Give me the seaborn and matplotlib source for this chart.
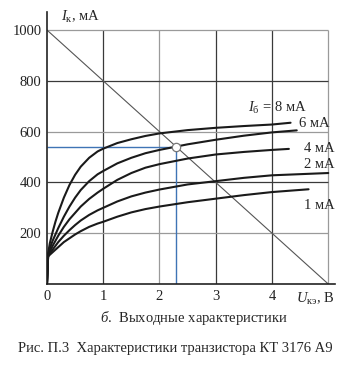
import numpy as np
import pandas as pd
import matplotlib
matplotlib.use('Agg')
import matplotlib.pyplot as plt
import seaborn as sns

sns.set_style('white')
plt.rcParams['font.family'] = ['Liberation Serif', 'DejaVu Serif']
plt.rcParams['mathtext.fontset'] = 'custom'
plt.rcParams['mathtext.rm'] = 'Liberation Serif'
plt.rcParams['mathtext.it'] = 'Liberation Serif:italic'

# Output characteristics (U in V, I in mA)
u_pts = [0, 0.02, 0.05, 0.1, 0.15, 0.2, 0.3, 0.4, 0.5, 0.6, 0.75, 0.9, 1.0,
         1.25, 1.5, 1.75, 2.0, 2.5, 3.0, 3.5, 4.0]
u_8 = u_pts + [4.33]
i_8 = [0, 120, 160, 205, 245, 280, 340, 390, 430, 462, 497, 522, 533,
       555, 570, 583, 593, 606, 615, 622, 628, 635]
u_6 = u_pts + [4.44]
i_6 = [0, 115, 140, 170, 195, 220, 265, 305, 340, 370, 405, 432, 445,
       475, 497, 515, 528, 550, 568, 584, 597, 605]
u_4 = u_pts + [4.3]
i_4 = [0, 112, 128, 150, 170, 190, 225, 255, 280, 305, 335, 360, 375,
       410, 437, 458, 472, 494, 510, 520, 528, 532]
u_2 = u_pts + [5.0]
i_2 = [0, 110, 120, 135, 150, 165, 190, 212, 232, 250, 272, 290, 300,
       325, 345, 360, 372, 392, 405, 418, 428, 437]
u_1 = u_pts + [4.65]
i_1 = [0, 108, 115, 125, 135, 145, 165, 180, 195, 208, 225, 238, 245,
       265, 282, 295, 305, 322, 336, 350, 362, 373]

load_u = [0, 5]
load_i = [1000, 0]
op_u, op_i = 2.3, 540

x_ticks = [0, 1, 2, 3, 4]
y_ticks = [200, 400, 600, 800, 1000]

fig = plt.figure(figsize=(3.53, 3.68), dpi=100)
ax = fig.add_axes([0.1331, 0.2283, 0.8159, 0.739])

# grid box
dark, light = '#3a3a3a', '#9a9a9a'
for x, c in zip([1, 2, 3, 4, 5], [dark, light, dark, dark, light]):
    ax.vlines(x, 0, 1000, color=c, lw=0.9, zorder=1)
for y, c in zip([200, 400, 600, 800, 1000], [light, dark, light, dark, light]):
    ax.hlines(y, 0, 5, color=c, lw=0.9, zorder=1)

# load line
sns.lineplot(x=load_u, y=load_i, ax=ax, color='#555555', lw=0.8, zorder=2)

# operating point guides
ax.hlines(op_i, 0, op_u, color='#3f74b5', lw=1.0, zorder=2)
ax.vlines(op_u, 0, op_i, color='#3f74b5', lw=1.0, zorder=2)

for u, i in [(u_8, i_8), (u_6, i_6), (u_4, i_4), (u_2, i_2), (u_1, i_1)]:
    sns.lineplot(x=u, y=i, ax=ax, color='#1a1a1a', lw=1.5, zorder=3, sort=False)

ax.plot([op_u], [op_i], 'o', ms=6, mfc='white', mec='#777777', mew=0.9, zorder=4)

ax.set_xlim(0, 5.12)
ax.set_ylim(0, 1071)
ax.set_xticks(x_ticks)
ax.set_yticks(y_ticks)
ax.tick_params(length=0, labelsize=10.5, pad=4, colors='#222222')
for s in ['top', 'right']:
    ax.spines[s].set_visible(False)
for s in ['left', 'bottom']:
    ax.spines[s].set_color('#222222')
    ax.spines[s].set_linewidth(1.2)

fs = 10.5
ax.text(0.25, 1052, r'$I_{\mathrm{к}}$, мА', fontsize=fs, va='center', ha='left')
ax.text(4.43, -60, r'$U_{\mathrm{кэ}}$, В', fontsize=fs, va='center', ha='left')

ax.text(4.09, 693, r'$I_{\mathrm{б}}$ = 8 мА', fontsize=fs, ha='center', va='center')
ax.text(4.75, 632, '6 мА', fontsize=fs, ha='center', va='center')
ax.text(4.85, 535, '4 мА', fontsize=fs, ha='center', va='center')
ax.text(4.85, 470, '2 мА', fontsize=fs, ha='center', va='center')
ax.text(4.85, 311, '1 мА', fontsize=fs, ha='center', va='center')

fig.text(0.55, 0.136, r'$б$.  Выходные характеристики', fontsize=fs, ha='center', va='center')
fig.text(0.496, 0.052, 'Рис. П.3  Характеристики транзистора КТ 3176 А9', fontsize=fs,
         ha='center', va='center')

fig.savefig('out.png', dpi=100)
